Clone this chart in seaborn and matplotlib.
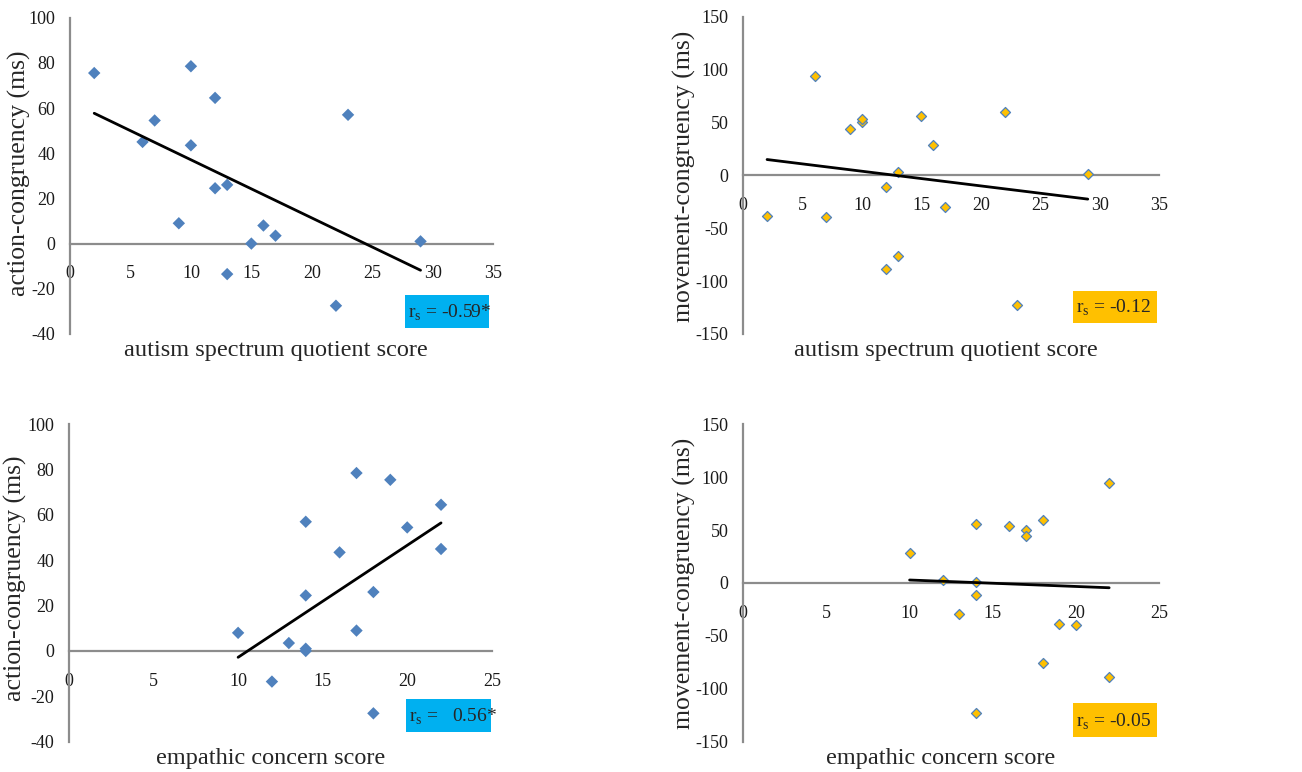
import numpy as np
import pandas as pd
import matplotlib
matplotlib.use('Agg')
import matplotlib.pyplot as plt
import seaborn as sns
from matplotlib.patches import Rectangle

# --- data: one value per participant ---
aq_score = [2, 10, 12, 7, 23, 6, 10, 12, 13, 9, 16, 17, 15, 29, 13, 22]
ec_score = [19, 17, 22, 20, 14, 22, 16, 14, 18, 17, 10, 13, 14, 14, 12, 18]
action_congruency = [75.5, 78.5, 64.5, 54.5, 57, 45, 43.5, 24.5, 26, 9,
                     8, 3.5, 0, 1, -13.5, -27.5]
movement_congruency = [-38.5, 50.5, -88.5, -39.5, -123, 94.3, 53.5, -11.5,
                       -76, 44, 28.2, -29.5, 56.2, 1.2, 3, 59.5]

rs_labels = ['r$_{\\mathrm{s}}$ = -0.59*', 'r$_{\\mathrm{s}}$ = -0.12',
             'r$_{\\mathrm{s}}$ =   0.56*', 'r$_{\\mathrm{s}}$ = -0.05']

df = pd.DataFrame({'aq': aq_score, 'ec': ec_score,
                   'action': action_congruency, 'movement': movement_congruency})

sns.set_theme(style='white')
plt.rcParams['font.family'] = ['Liberation Serif', 'DejaVu Serif']
plt.rcParams['mathtext.fontset'] = 'custom'
plt.rcParams['mathtext.rm'] = 'Liberation Serif'
plt.rcParams['axes.unicode_minus'] = False

AXIS_GRAY = '#8c8c8c'
BLUE = '#4f81bd'
GOLD = '#ffc000'
SKY = '#00b0f0'

fig = plt.figure(figsize=(13.02, 7.72), dpi=100)

# axes positions in figure fraction [left, bottom, width, height]
positions = [
    [0.0538, 0.5674, 0.3249, 0.4097],
    [0.5709, 0.5674, 0.3193, 0.4110],
    [0.0530, 0.0393, 0.3247, 0.4111],
    [0.5709, 0.0393, 0.3193, 0.4111],
]
panels = [
    ('aq', 'action', 'autism spectrum quotient score', 'action-congruency (ms)'),
    ('aq', 'movement', 'autism spectrum quotient score', 'movement-congruency (ms)'),
    ('ec', 'action', 'empathic concern score', 'action-congruency (ms)'),
    ('ec', 'movement', 'empathic concern score', 'movement-congruency (ms)'),
]
boxes = [(0.792, 0.019, 0.199, 0.104, SKY),
         (0.792, 0.035, 0.202, 0.101, GOLD),
         (0.797, 0.031, 0.201, 0.104, SKY),
         (0.792, 0.015, 0.202, 0.107, GOLD)]
xlab_x = [0.487, 0.487, 0.478, 0.475]
ylab_pos = [(-0.092, 0.509), (-0.115, 0.496), (-0.100, 0.516), (-0.114, 0.50)]

for i, (xc, yc, xl, yl) in enumerate(panels):
    ax = fig.add_axes(positions[i])
    if yc == 'action':
        sns.scatterplot(data=df, x=xc, y=yc, ax=ax, marker='D', s=40,
                        color=BLUE, edgecolor='none', zorder=3)
        ax.set_ylim(-40, 100)
        ax.set_yticks(np.arange(-40, 101, 20))
    else:
        sns.scatterplot(data=df, x=xc, y=yc, ax=ax, marker='D', s=26,
                        color=GOLD, edgecolor=BLUE, linewidth=0.9, zorder=3)
        ax.set_ylim(-150, 150)
        ax.set_yticks(np.arange(-150, 151, 50))
    sns.regplot(data=df, x=xc, y=yc, ax=ax, scatter=False, ci=None,
                truncate=True, line_kws={'color': 'black', 'lw': 2.0, 'zorder': 4})

    if xc == 'aq':
        ax.set_xlim(0, 35)
        ax.set_xticks(np.arange(0, 36, 5))
    else:
        ax.set_xlim(0, 25)
        ax.set_xticks(np.arange(0, 26, 5))

    # Excel-like axes: x axis crosses at zero
    ax.spines['top'].set_visible(False)
    ax.spines['right'].set_visible(False)
    ax.spines['bottom'].set_position(('data', 0))
    for sp in ('left', 'bottom'):
        ax.spines[sp].set_color(AXIS_GRAY)
        ax.spines[sp].set_linewidth(1.6)
        ax.spines[sp].set_zorder(2)
    ax.tick_params(axis='x', direction='out', length=3.5, width=1.6,
                   color=AXIS_GRAY, pad=12, labelsize=13, labelcolor='#1a1a1a')
    ax.tick_params(axis='y', direction='out', length=4.8, width=1.6,
                   color=AXIS_GRAY, pad=6, labelsize=13, labelcolor='#1a1a1a')
    ax.set_facecolor('none')

    ax.set_xlabel(xl, fontsize=17.5)
    ax.xaxis.set_label_coords(xlab_x[i], -0.02)
    ax.set_ylabel(yl, fontsize=18.5)
    ax.yaxis.set_label_coords(*ylab_pos[i])

    bx, by, bw, bh, bc = boxes[i]
    ax.add_patch(Rectangle((bx, by), bw, bh, transform=ax.transAxes,
                           facecolor=bc, edgecolor='none', zorder=5,
                           clip_on=False))
    ax.text(bx + 0.008, by + 0.033, rs_labels[i], transform=ax.transAxes,
            fontsize=14, ha='left', va='baseline', zorder=6)

plt.savefig('out.png', dpi=100)
